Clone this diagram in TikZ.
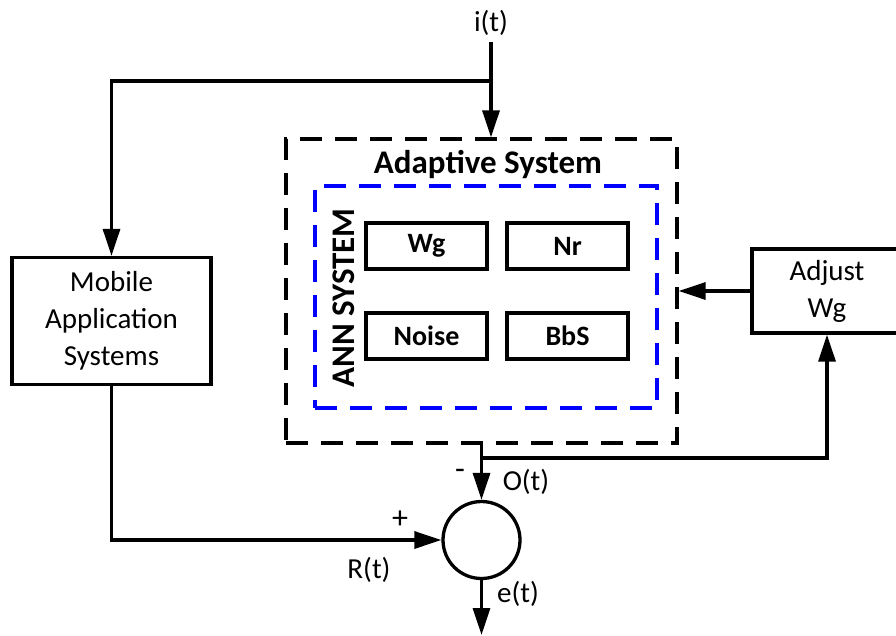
\documentclass[tikz,border=0pt]{standalone}
\usepackage{fontspec}
\setmainfont{Carlito}
\usetikzlibrary{arrows.meta}
\begin{document}
\begin{tikzpicture}[x=1pt,y=-1pt,
  line width=3.3pt,
  arr/.style={-{Triangle[length=27pt,width=17pt]}},
  txt/.style={font=\fontsize{29}{37}\selectfont, inner sep=0pt, align=center},
  btxt/.style={font=\fontsize{33}{40}\selectfont\bfseries, inner sep=0pt, align=center},
  blk/.style={draw, inner sep=0pt, align=center, font=\fontsize{29}{37}\selectfont},
  inbox/.style={draw, minimum width=121pt, minimum height=46pt, inner sep=0pt, font=\fontsize{28}{36}\selectfont\bfseries},
  dsh/.style={draw, dash pattern=on 22pt off 13pt, inner sep=0pt}
]
\clip (0,0) rectangle (896,635);
\fill[white] (0,0) rectangle (896,635);

% blocks
\node[blk, minimum width=199pt, minimum height=127pt] (mob) at (111.5,321) {Mobile\\Application\\Systems};
\node[blk, minimum width=150pt, minimum height=84pt] (adj) at (827,291) {Adjust\\Wg};
\node[dsh, minimum width=391pt, minimum height=304pt] (adapt) at (481.5,291) {};
\node[dsh, draw=blue, minimum width=342pt, minimum height=222pt] (ann) at (486,297) {};
\node[btxt] (adt) at (488,164) {Adaptive System};
\node[btxt, rotate=90] (annt) at (344,298) {ANN SYSTEM};
\node[inbox] (wg) at (426.5,246) {Wg};
\node[inbox] (nr) at (567.5,246) {Nr};
\node[inbox] (noise) at (426.5,336) {Noise};
\node[inbox] (bbs) at (567.5,336) {BbS};
\node[draw, circle, minimum size=77pt, inner sep=0pt] (sum) at (481.5,540) {};

% labels
\node[txt] (it) at (491,23) {i(t)};
\node[txt] (ot) at (526,482) {O(t)};
\node[txt] (rt) at (369,570) {R(t)};
\node[txt] (et) at (518,594) {e(t)};
\node[txt, font=\fontsize{32}{37}\selectfont] (plus) at (400,520) {+};
\node[txt, font=\fontsize{32}{37}\selectfont] (minus) at (460,474) {-};

% coordinates
\coordinate (itop) at (491,42);
\coordinate (j1) at (491,81);
\coordinate (j2) at (481.5,458);
\coordinate (eout) at (481.5,635);

% connectors
\draw[arr] (itop) -- (itop |- adapt.north);
\draw[arr] (j1) -| (mob.north);
\draw[arr] (adj.west) -- (adapt.east |- adj.west);
\draw[arr] (adapt.south) -- (sum.north);
\draw[arr] (j2) -| (adj.south);
\draw[arr] (mob.south) |- (sum.west);
\draw[arr] (sum.south) -- (eout);
\end{tikzpicture}
\end{document}
